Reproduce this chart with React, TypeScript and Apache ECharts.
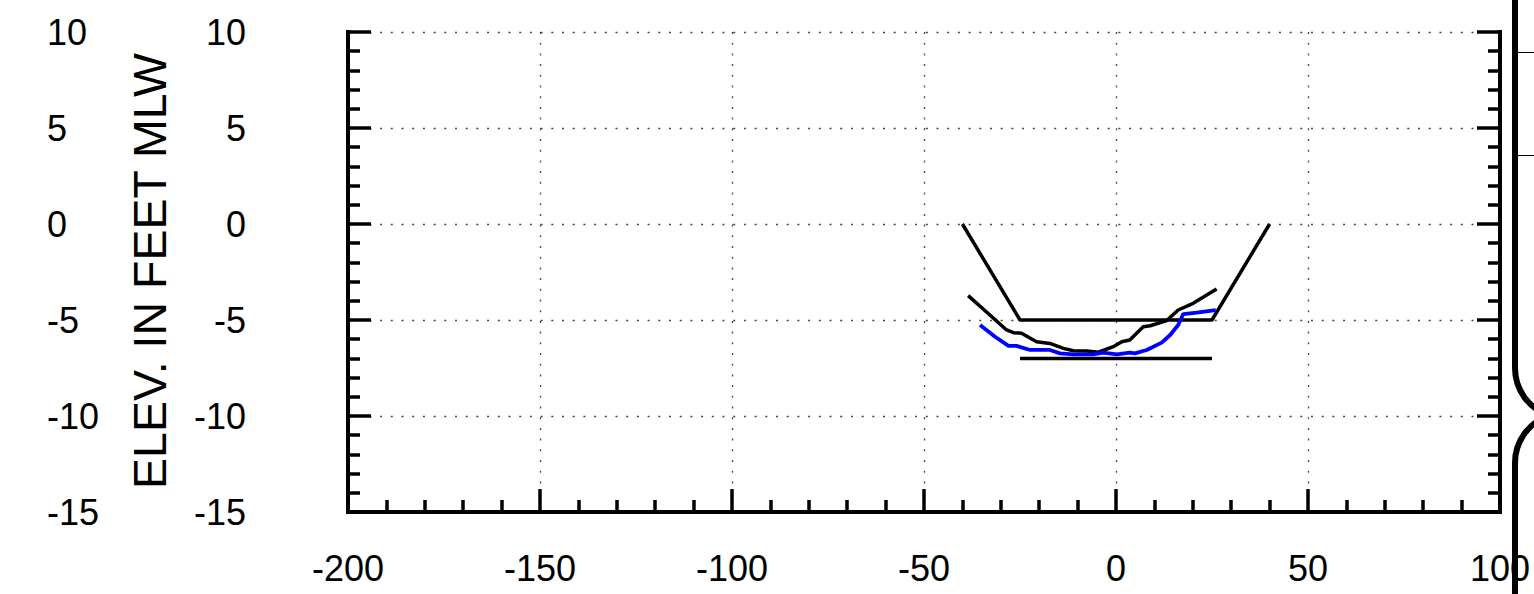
import React, { useEffect, useRef } from "react";
import * as echarts from "echarts";

const xTicks = { min: -200, max: 100, interval: 50 };
const yTicks = { min: -15, max: 10, interval: 5 };
const yAxisTitle = "ELEV. IN FEET MLW";

// Design template (channel)
const designX = [-40, -25, 25, 40];
const designY = [0, -5, -5, 0];
// Overdepth line
const overX = [-25, 25];
const overY = [-7, -7];
// Survey (black)
const surveyAX = [-38.5, -31.9, -28.5, -26.7, -24.6, -20.7, -17.2, -13.7, -11.1, -7.6, -4.6, -0.7, 1.5, 3.6, 7.1, 8.9, 13.2, 16.2, 20.1, 26.2];
const surveyAY = [-3.73, -4.91, -5.52, -5.66, -5.69, -6.13, -6.22, -6.48, -6.6, -6.61, -6.68, -6.39, -6.13, -6.04, -5.35, -5.3, -5.03, -4.48, -4.13, -3.39];
// Survey (blue)
const surveyBX = [-35.4, -31.5, -28.0, -25.9, -22.4, -17.2, -14.6, -11.1, -5.9, -3.3, 0.2, 3.6, 4.9, 8.0, 11.9, 14.1, 16.2, 17.5, 21.0, 26.0];
const surveyBY = [-5.26, -5.87, -6.35, -6.35, -6.56, -6.56, -6.74, -6.79, -6.79, -6.7, -6.79, -6.7, -6.74, -6.56, -6.18, -5.78, -5.26, -4.69, -4.62, -4.48];

const zip = (xs: number[], ys: number[]) => xs.map((x, i) => [x, ys[i]]);

const FONT = "Liberation Sans";

export default function App() {
  const ref = useRef<HTMLDivElement>(null);
  useEffect(() => {
    if (!ref.current) return;
    const chart = echarts.init(ref.current, null, { renderer: "svg" });
    const axisLineStyle = { color: "#000", width: 4, cap: "square" };
    const tickStyle = { color: "#000", width: 3.5 };
    const gridStyle = { color: "#444", width: 1.3, type: [2, 8.7] as any };
    const labelBase = { color: "#000", fontSize: 36, fontFamily: FONT };
    chart.setOption({
      animation: false,
      backgroundColor: "#fff",
      grid: { left: 348, right: 34, top: 32, bottom: 82, containLabel: false },
      xAxis: {
        type: "value",
        min: xTicks.min,
        max: xTicks.max,
        interval: xTicks.interval,
        position: "bottom",
        axisLine: { show: true, onZero: false, lineStyle: axisLineStyle },
        axisTick: { show: true, inside: true, length: 23, lineStyle: tickStyle },
        minorTick: { show: true, splitNumber: 5, length: 12, lineStyle: tickStyle },
        splitLine: { show: true, lineStyle: gridStyle },
        axisLabel: { ...labelBase, margin: 38, showMinLabel: true, showMaxLabel: true },
      },
      yAxis: [
        {
          type: "value",
          min: yTicks.min,
          max: yTicks.max,
          interval: yTicks.interval,
          position: "left",
          axisLine: { show: true, onZero: false, lineStyle: axisLineStyle },
          axisTick: { show: true, inside: true, length: 23, lineStyle: tickStyle },
          minorTick: { show: true, splitNumber: 5, length: 12, lineStyle: tickStyle },
          splitLine: { show: true, lineStyle: gridStyle },
          axisLabel: { ...labelBase, margin: 102, align: "right", padding: [3, 0, 0, 0] },
        },
        {
          type: "value",
          min: yTicks.min,
          max: yTicks.max,
          interval: yTicks.interval,
          position: "left",
          axisLine: { show: false },
          axisTick: { show: false },
          splitLine: { show: false },
          axisLabel: { ...labelBase, margin: 301, align: "left", padding: [3, 0, 0, 0] },
        },
        {
          type: "value",
          min: yTicks.min,
          max: yTicks.max,
          interval: yTicks.interval,
          position: "right",
          axisLine: { show: true, onZero: false, lineStyle: axisLineStyle },
          axisTick: { show: true, inside: true, length: 23, lineStyle: tickStyle },
          minorTick: { show: true, splitNumber: 5, length: 12, lineStyle: tickStyle },
          splitLine: { show: false },
          axisLabel: { show: false },
        },
      ],
      series: [
        {
          type: "line",
          data: zip(designX, designY),
          showSymbol: false,
          lineStyle: { color: "#000", width: 3.5 },
          z: 3,
        },
        {
          type: "line",
          data: zip(overX, overY),
          showSymbol: false,
          lineStyle: { color: "#000", width: 3.5 },
          z: 3,
        },
        {
          type: "line",
          data: zip(surveyAX, surveyAY),
          showSymbol: false,
          lineStyle: { color: "#000", width: 3.5 },
          z: 4,
        },
        {
          type: "line",
          data: zip(surveyBX, surveyBY),
          showSymbol: false,
          lineStyle: { color: "#0000ff", width: 3.8 },
          z: 5,
        },
      ],
      graphic: [
        {
          type: "text",
          x: 150,
          y: 271,
          rotation: Math.PI / 2,
          z: 100,
          style: {
            text: yAxisTitle,
            fontSize: 46.5,
            fontFamily: FONT,
            fill: "#000",
            align: "center",
            verticalAlign: "middle",
            textAlign: "center",
            textVerticalAlign: "middle",
          },
        },
        { type: "line", z: 100, shape: { x1: 1515, y1: 0, x2: 1515, y2: 368 }, style: { stroke: "#000", lineWidth: 6 } },
        { type: "arc", z: 100, shape: { cx: 1565, cy: 368, r: 50, startAngle: Math.PI * 0.6, endAngle: Math.PI, clockwise: true }, style: { stroke: "#000", lineWidth: 6, fill: "none" } },
        { type: "arc", z: 100, shape: { cx: 1565, cy: 463, r: 50, startAngle: Math.PI, endAngle: Math.PI * 1.4, clockwise: true }, style: { stroke: "#000", lineWidth: 6, fill: "none" } },
        { type: "line", z: 100, shape: { x1: 1515, y1: 463, x2: 1515, y2: 594 }, style: { stroke: "#000", lineWidth: 6 } },
        { type: "line", z: 100, shape: { x1: 1518, y1: 52.5, x2: 1534, y2: 52.5 }, style: { stroke: "#000", lineWidth: 1 } },
        { type: "line", z: 100, shape: { x1: 1518, y1: 155.5, x2: 1534, y2: 155.5 }, style: { stroke: "#000", lineWidth: 1 } },
      ],
    });
    return () => chart.dispose();
  }, []);
  return <div ref={ref} style={{ position: "absolute", left: 0, top: 0, width: 1534, height: 594 }} />;
}
